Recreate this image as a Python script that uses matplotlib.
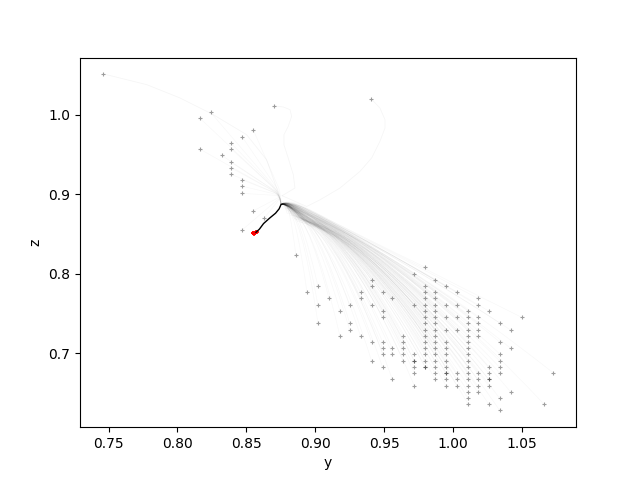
import numpy as np
import matplotlib.pyplot as plt
from matplotlib.path import Path
from matplotlib.patches import PathPatch

# start positions, lattice part (z of row, y values in row)
grid_z = [0.823, 0.808, 0.799, 0.792, 0.784, 0.777, 0.769, 0.760, 0.753, 0.745,
          0.738, 0.729, 0.721, 0.714, 0.706, 0.699, 0.690, 0.682, 0.675, 0.667,
          0.659, 0.651, 0.643, 0.636, 0.628]
grid_y = [
    [0.886],
    [0.980],
    [0.972],
    [0.941, 0.987],
    [0.902, 0.941, 0.980, 0.995],
    [0.894, 0.933, 0.949, 0.980, 0.987, 1.003],
    [0.910, 0.933, 0.956, 0.980, 0.987, 1.018],
    [0.902, 0.925, 0.941, 0.972, 0.980, 0.987, 0.995, 1.003, 1.018],
    [0.918, 0.949, 0.980, 0.987, 1.011, 1.026],
    [0.949, 0.980, 0.987, 0.995, 1.003, 1.011, 1.018, 1.050],
    [0.902, 0.925, 0.980, 0.987, 1.011, 1.018, 1.034],
    [0.925, 0.980, 0.987, 0.995, 1.003, 1.011, 1.018, 1.042],
    [0.918, 0.933, 0.964, 0.980, 0.987, 1.011, 1.018],
    [0.941, 0.949, 0.964, 0.980, 0.987, 0.995, 1.011, 1.034],
    [0.949, 0.956, 0.964, 0.980, 0.987, 0.995, 1.011, 1.042],
    [0.949, 0.956, 0.964, 0.972, 0.980, 0.987, 0.995, 1.011, 1.034],
    [0.941, 0.964, 0.972, 0.972, 0.980, 0.987, 0.995, 1.011, 1.034],
    [0.949, 0.972, 0.980, 0.980, 0.987, 0.995, 1.011, 1.026, 1.034],
    [0.972, 0.987, 0.995, 0.995, 1.003, 1.011, 1.018, 1.026, 1.034, 1.073],
    [0.956, 0.987, 0.995, 1.003, 1.011, 1.018, 1.026, 1.026],
    [0.972, 0.995, 1.003, 1.011, 1.018, 1.026],
    [1.011, 1.018, 1.042],
    [1.011, 1.034],
    [1.011, 1.026, 1.066],
    [1.034],
]

# start positions in the upper left part
upper_y = [0.824, 0.816, 0.855, 0.847, 0.839, 0.839, 0.816, 0.832, 0.839,
           0.839, 0.839, 0.847, 0.847, 0.847, 0.855, 0.863, 0.847]
upper_z = [1.003, 0.996, 0.981, 0.972, 0.964, 0.957, 0.957, 0.949, 0.940,
           0.933, 0.925, 0.918, 0.910, 0.901, 0.879, 0.870, 0.855]

# three trajectories that take a long way round
long_paths = [
    ([0.7461, 0.7776, 0.8018, 0.8260, 0.8502, 0.8647, 0.8740],
     [1.0513, 1.0378, 1.0210, 1.0000, 0.9748, 0.9433, 0.8980]),
    ([0.8703, 0.8768, 0.8817, 0.8829, 0.8804, 0.8773, 0.8773, 0.8804, 0.8841, 0.8853, 0.8760],
     [1.0110, 1.0097, 1.0063, 0.9979, 0.9853, 0.9748, 0.9622, 0.9455, 0.9244, 0.9077, 0.8980]),
    ([0.9407, 0.9470, 0.9507, 0.9507, 0.9470, 0.9410, 0.9325, 0.9180, 0.9035, 0.8938, 0.8760],
     [1.0198, 1.0084, 0.9937, 0.9832, 0.9664, 0.9455, 0.9286, 0.9077, 0.8929, 0.8845, 0.8980]),
]

# where everything gathers (apex), then the mean path down to the end
hub = (0.876, 0.898)
mean_y = [0.8760, 0.8752, 0.8738, 0.8712, 0.8670, 0.8625, 0.8595, 0.8570]
mean_z = [0.8930, 0.8870, 0.8815, 0.8760, 0.8700, 0.8630, 0.8560, 0.8520]
end_y = [0.8550, 0.8560, 0.8570, 0.8580, 0.8555, 0.8548]
end_z = [0.8505, 0.8515, 0.8522, 0.8528, 0.8495, 0.8510]

start_y = []
start_z = []
for z, ys in zip(grid_z, grid_y):
    for y in ys:
        start_y.append(y)
        start_z.append(z)
start_y += upper_y
start_z += upper_z

fig, ax = plt.subplots(figsize=(6.4, 4.8), dpi=100)

band = -0.9  # slope of the dense band going out of the apex
for sy, sz in zip(start_y, start_z):
    dy, dz = sy - hub[0], sz - hub[1]
    ey, ez = hub[0] + 0.14 * dy, hub[1] + 0.14 * dz
    ay, az = hub[0] + 0.04 * dy, hub[1] + 0.04 * dz
    if sy > hub[0]:
        cy = sy - 0.5 * dy
        cz = hub[1] + band * (cy - hub[0])
    else:
        cy, cz = (sy + ey) / 2, (sz + ez) / 2
    verts = [(sy, sz), (cy, cz), (ey, ez), (ay, az), (mean_y[1], mean_z[1])]
    codes = [Path.MOVETO, Path.CURVE3, Path.CURVE3, Path.CURVE3, Path.CURVE3]
    ax.add_patch(PathPatch(Path(verts, codes), fill=False, edgecolor='k',
                           alpha=0.028, lw=0.55))

for ys, zs in long_paths:
    ax.plot(ys, zs, color='k', alpha=0.04, lw=0.6)
    start_y.append(ys[0])
    start_z.append(zs[0])

ax.plot(mean_y[1:], mean_z[1:], color='k', lw=1.0)
ax.scatter(start_y, start_z, marker='+', color='k', alpha=0.38, s=6, lw=0.8)
ax.scatter(end_y, end_z, marker='+', color='red', s=10, lw=1.2)

ax.set_xlim(0.7292, 1.0894)
ax.set_ylim(0.6068, 1.0718)
ax.set_xlabel('y')
ax.set_ylabel('z')

plt.savefig('out.png', dpi=100)
